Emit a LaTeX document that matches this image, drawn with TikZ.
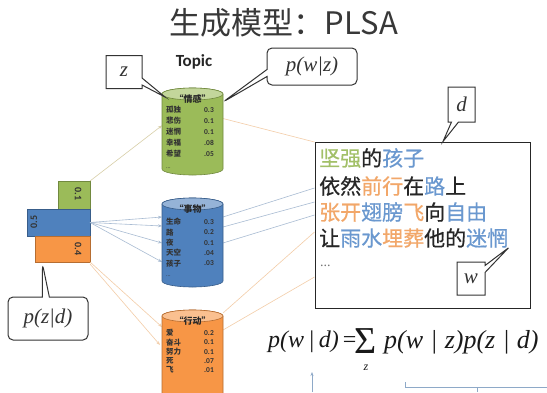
\documentclass[tikz,border=0pt]{standalone}
\usepackage{fontspec}
\setmainfont{Liberation Serif}
\newfontfamily\cjk{Noto Sans CJK SC}
\newfontfamily\cjkb[FakeBold=0.6]{Noto Sans CJK SC}
\newfontfamily\carl{Carlito}
\usetikzlibrary{shapes.callouts,calc,arrows.meta}
\definecolor{gfill}{HTML}{9BBB59}
\definecolor{gtop}{HTML}{C3D69B}
\definecolor{gline}{HTML}{71893F}
\definecolor{bfill}{HTML}{4F81BD}
\definecolor{btop}{HTML}{95B3D7}
\definecolor{bline}{HTML}{385D8A}
\definecolor{ofill}{HTML}{F79646}
\definecolor{otop}{HTML}{FAC090}
\definecolor{oline}{HTML}{B66D31}
\definecolor{wgreen}{HTML}{A2C068}
\definecolor{wblue}{HTML}{6A98CF}
\definecolor{worange}{HTML}{F2A769}
\definecolor{cgreen}{HTML}{D8CFA8}
\definecolor{cblue}{HTML}{A9BCD3}
\definecolor{corange}{HTML}{F3CDA8}
\definecolor{dark}{HTML}{333333}
\definecolor{note}{HTML}{8EA9C8}
\newcommand\drawcyl[4]{%
  \path[fill=#2,draw=#4,line width=0.6pt] ($(#1.north west)+(0,-6)$) -- ($(#1.south west)+(0,6)$)
    arc[start angle=180,end angle=360,x radius=30.5pt,y radius=6pt]
    -- ($(#1.north east)+(0,-6)$)
    arc[start angle=0,end angle=180,x radius=30.5pt,y radius=6pt] -- cycle;
  \path[fill=#3,draw=#4,line width=0.6pt] ($(#1.north)+(0,-6)$) ellipse[x radius=30.5pt,y radius=6pt];}
\tikzset{
  x=1pt,y=1pt,
  cylbox/.style={minimum width=61pt,inner sep=0pt,outer sep=0pt},
  barbox/.style={draw=#1,line width=0.6pt,inner sep=0pt,outer sep=0pt},
  barlbl/.style={font=\carl\bfseries\fontsize{10}{11}\selectfont,text=dark,inner sep=0pt},
  hdr/.style={font=\cjk\bfseries\fontsize{9}{10}\selectfont,text=black!85,inner sep=0pt},
  cw/.style={font=\cjk\bfseries\fontsize{7.5}{8}\selectfont,text=black!80,inner sep=0pt,anchor=west},
  cn/.style={font=\carl\bfseries\fontsize{7.5}{8}\selectfont,text=black!80,inner sep=0pt,anchor=east},
  callbox/.style={draw=dark,line width=1pt,fill=white,inner sep=0pt,callout pointer width=7pt,
     font=\itshape\fontsize{21}{23}\selectfont,text=dark},
  conn/.style={line width=0.6pt},
  arr/.style={-{Stealth[length=4pt,width=3pt]}},
  docline/.style={font=\cjkb\fontsize{21}{24}\selectfont,anchor=west,inner sep=0pt,text=black!85},
  formula/.style={font=\itshape\fontsize{24}{26}\selectfont,text=black!90,inner sep=0pt},
}
\begin{document}
\begin{tikzpicture}
\useasboundingbox (0,0) rectangle (547,-392);
\clip (0,0) rectangle (547,-392);
\fill[white] (0,0) rectangle (547,-392);

% title
\node[font=\cjk\fontsize{31}{34}\selectfont,text=black!78] (title) at (284,-23) {生成模型：PLSA};
\node[font=\carl\bfseries\fontsize{17}{18}\selectfont,text=black!85] (topic) at (194,-62) {Topic};

% cylinder placeholders
\node[cylbox,minimum height=87pt] (cg) at (192.5,-131.5) {};
\node[cylbox,minimum height=89pt] (cb) at (192.5,-242.5) {};
\node[cylbox,minimum height=90pt] (co) at (192.5,-355) {};

% bars
\node[barbox=gline,fill=gfill,minimum width=32pt,minimum height=28pt] (bg) at (74,-195) {};
\node[barbox=bline,fill=bfill,minimum width=63pt,minimum height=27pt] (bb) at (58.5,-222.5) {};
\node[barbox=oline,fill=ofill,minimum width=55pt,minimum height=26pt] (bo) at (62.5,-249) {};
\node[barlbl,rotate=-90] (lg) at (78,-194) {0.1};
\node[barlbl,rotate=90] (lb) at (34,-222) {0.5};
\node[barlbl,rotate=-90] (lo) at (78,-249) {0.4};

% document box
\node[draw=black!85,line width=1pt,minimum width=215pt,minimum height=166pt,inner sep=0pt] (doc) at (422.5,-225) {};

% connectors bar -> cylinder
\draw[conn,arr,cgreen] (bg.north east) -- ([yshift=6]cg.west);
\foreach \o in {25.5,16.5,-0.5,-19.5}
  \draw[conn,arr,cblue] (bb.east) -- ([yshift=\o]cb.west);
\draw[conn,arr,corange] (bo.south east) -- ([yshift=28]co.west);
\draw[conn,arr,corange] ([yshift=-2]bo.south east) -- ([yshift=10,xshift=-2]co.west);

% connectors cylinder -> doc
\draw[conn,corange] ([yshift=13]cg.east) -- ([yshift=83]doc.west);
\draw[conn,cblue] ([yshift=25.5]cb.east) -- ([yshift=37]doc.west);
\draw[conn,cblue] ([yshift=15.5]cb.east) -- ([yshift=23]doc.west);
\draw[conn,cblue] ([yshift=-0.5]cb.east) -- ([yshift=10]doc.west);
\draw[conn,corange] ([yshift=42]co.east) -- ([yshift=-7]doc.west);
\draw[conn,corange] ([yshift=25]co.east) -- ([yshift=-52]doc.west);

% cylinders
\drawcyl{cg}{gfill}{gtop}{gline}
\drawcyl{cb}{bfill}{btop}{bline}
\drawcyl{co}{ofill}{otop}{oline}

\node[hdr] (hg) at (192.5,-99) {“情感”};
\node[hdr] (hb) at (192.5,-209) {“事物”};
\node[hdr] (ho) at (192.5,-321) {“行动”};
\foreach \w/\p [count=\i] in {孤独/0.3,悲伤/0.1,迷惘/0.1,幸福/.08,希望/.05}{
  \node[cw] (gw\i) at (166,{-110-(\i-1)*11}) {\w};
  \node[cn] (gp\i) at (214,{-110-(\i-1)*11}) {\p};}
\foreach \w/\p [count=\i] in {生命/0.3,路/0.2,夜/0.1,天空/.04,孩子/.03}{
  \node[cw] (bw\i) at (166,{-222-(\i-1)*10.3}) {\w};
  \node[cn] (bp\i) at (214,{-222-(\i-1)*10.3}) {\p};}
\foreach \w/\p [count=\i] in {爱/0.2,奋斗/0.1,努力/0.1,死/.07,飞/.01}{
  \node[cw] (ow\i) at (166,{-333-(\i-1)*9.3}) {\w};
  \node[cn] (op\i) at (214,{-333-(\i-1)*9.3}) {\p};}
\node[cw,font=\fontsize{6}{6}\selectfont] (gdots) at (166,-168) {...};
\node[cw,font=\fontsize{6}{6}\selectfont] (bdots) at (166,-276) {...};

% document text
\node[docline] (l1) at (319,-158) {\textcolor{wgreen}{坚强}的\textcolor{wblue}{孩子}};
\node[docline] (l2) at (319,-186) {依然\textcolor{worange}{前行}在\textcolor{wblue}{路}上};
\node[docline] (l3) at (319,-212) {\textcolor{worange}{张开}\textcolor{wblue}{翅膀}\textcolor{worange}{飞}向\textcolor{wblue}{自由}};
\node[docline] (l4) at (319,-238) {让\textcolor{wblue}{雨水}\textcolor{worange}{埋葬}他的\textcolor{wblue}{迷惘}};
\node[docline,font=\fontsize{14}{14}\selectfont,text=black!55] (l5) at (320,-266) {...};

% callouts
\node[callbox,rectangle callout,minimum width=36pt,minimum height=33pt,
  callout absolute pointer={([xshift=3,yshift=-9]cg.north west)}] (zc) at (124,-72) {z};
\node[callbox,rectangle callout,rounded corners=5pt,minimum width=90pt,minimum height=37pt,
  callout absolute pointer={([yshift=-14]cg.north east)}] (pwz) at (312,-66.5) {p(w|z)};
\node[callbox,rectangle callout,rounded corners=5pt,minimum width=80pt,minimum height=43pt,
  callout absolute pointer={([xshift=-20,yshift=-2]bo.south)}] (pzd) at (48,-318.5) {p(z|d)};
\node[callbox,rectangle callout,minimum width=27pt,minimum height=35pt,
  callout absolute pointer={([xshift=20.5]doc.north)}] (dc) at (461.5,-104.5) {d};
\node[callbox,rectangle callout,minimum width=28pt,minimum height=33pt,
  callout absolute pointer={(l4.south east)}] (wc) at (471,-278.5) {w};

% formula
\node[formula,anchor=west] (fl) at (268,-342) {p(w\,|\,d)\upshape\,=};
\node[formula,font=\fontsize{38}{40}\selectfont,anchor=center] (fs) at (366,-341) {Σ};
\node[formula,font=\itshape\fontsize{12}{13}\selectfont] (fz) at (366,-368) {z};
\node[formula,font=\itshape\fontsize{26}{28}\selectfont,anchor=west] (fr) at (384,-342) {p(w\;|\;z)p(z\;|\;d)};
\coordinate (a0) at (312,-392);
\coordinate (a1) at (312,-372);
\draw[note,line width=0.6pt,arr] (a0) -- (a1);
\coordinate (b0) at (405,-382);
\coordinate (b1) at (405,-387);
\coordinate (b2) at (547,-387);
\coordinate (b3) at (477,-387);
\coordinate (b4) at (477,-392);
\draw[note,line width=0.6pt] (b0) -- (b1) -- (b2);
\draw[note,line width=0.6pt] (b3) -- (b4);
\end{tikzpicture}
\end{document}
